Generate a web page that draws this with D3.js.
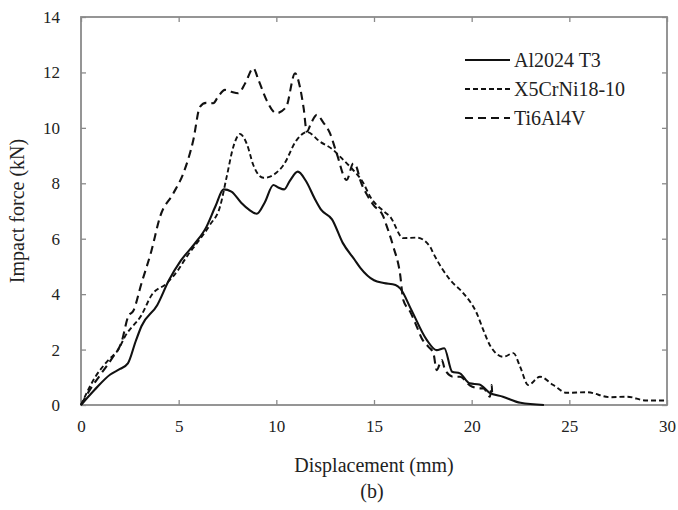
<!DOCTYPE html>
<html><head><meta charset="utf-8">
<script src="https://cdn.jsdelivr.net/npm/d3@7"></script>
<style>body{margin:0;background:#fff}</style>
</head><body><svg id="c" width="678" height="510"></svg>
<script>
const xTicks = [0,5,10,15,20,25,30];
const yTicks = [0,2,4,6,8,10,12,14];
const seriesNames = ["Al2024 T3","X5CrNi18-10","Ti6Al4V"];
const al2024 = [[0,0],[0.7,0.55],[1.5,1.1],[2.0,1.3],[2.4,1.5],[2.8,2.3],[3.1,2.85],[3.9,3.6],[4.5,4.5],[5.1,5.2],[5.8,5.8],[6.4,6.4],[6.9,7.2],[7.3,7.78],[7.7,7.7],[8.2,7.3],[8.6,7.05],[9.0,6.9],[9.4,7.3],[9.85,7.94],[10.1,7.85],[10.4,7.78],[10.7,8.1],[11.1,8.42],[11.5,8.1],[12.0,7.4],[12.3,7.04],[12.85,6.7],[13.4,5.85],[14.0,5.25],[14.3,4.95],[15.0,4.5],[15.5,4.4],[16.1,4.33],[16.35,4.2],[16.9,3.45],[17.7,2.35],[18.2,1.98],[18.6,2.05],[19.0,1.2],[19.4,1.14],[19.9,0.78],[20.4,0.74],[20.9,0.45],[21.6,0.3],[22.5,0.08],[23.7,0]];
const x5crni = [[0,0],[0.72,1.0],[1.4,1.62],[1.91,2.0],[2.25,2.47],[3.1,3.25],[3.62,3.97],[4.39,4.39],[5.0,4.9],[5.41,5.35],[6.0,5.9],[6.6,6.5],[7.12,7.16],[7.46,8.24],[7.8,9.32],[8.14,9.78],[8.5,9.4],[8.82,8.66],[9.33,8.2],[9.6,8.22],[10.0,8.38],[10.36,8.65],[11.04,9.56],[11.56,9.85],[12.24,9.5],[12.92,9.2],[13.26,8.96],[13.77,8.6],[14.46,8.0],[14.8,7.52],[15.48,7.0],[15.82,6.8],[16.5,6.02],[17.2,6.04],[17.87,5.71],[18.04,5.47],[18.9,4.51],[19.58,4.03],[20.26,3.31],[20.6,2.7],[20.94,2.15],[21.62,1.74],[22.14,1.87],[22.48,1.38],[22.9,0.72],[23.5,1.02],[24.18,0.72],[24.87,0.44],[25.89,0.46],[27.09,0.28],[27.94,0.3],[28.96,0.16],[30,0.16]];
const ti6al4v = [[0,0],[0.5,0.6],[1.0,1.1],[1.6,1.7],[2.08,2.28],[2.42,3.2],[2.68,3.4],[3.1,4.4],[3.6,5.55],[4.05,6.8],[4.73,7.64],[5.24,8.36],[5.75,9.56],[6.09,10.76],[6.4,10.9],[6.77,10.89],[7.0,11.1],[7.37,11.37],[7.7,11.3],[8.05,11.25],[8.4,11.6],[8.82,12.15],[9.1,11.7],[9.5,11.0],[10.0,10.53],[10.5,10.75],[10.96,11.97],[11.2,11.5],[11.4,10.7],[11.56,9.86],[11.8,10.2],[12.07,10.47],[12.4,10.2],[12.75,9.8],[13.09,9.08],[13.6,8.12],[13.94,8.72],[14.1,8.6],[14.3,8.1],[14.63,7.6],[14.97,7.22],[15.48,6.8],[15.57,6.62],[15.99,5.71],[16.33,4.75],[16.5,3.79],[16.85,3.37],[17.19,2.83],[17.44,2.41],[17.79,2.1],[18.04,1.87],[18.21,1.26],[18.47,1.62],[18.64,1.26],[19.06,1.02],[19.41,1.02],[19.92,0.7],[20.43,0.6],[20.6,0.6],[20.94,0.3],[21.03,0.72],[21.05,0.35]];

const FONT = "'Liberation Serif'";
const svg = d3.select("#c");
const L=81,R=667,T=17,B=405;
const x = d3.scaleLinear().domain([0,30]).range([L,R]);
const y = d3.scaleLinear().domain([0,14]).range([B,T]);
const axisCol="#8a8a8a";

svg.append("rect").attr("x",L).attr("y",T).attr("width",R-L).attr("height",B-T)
  .attr("fill","none").attr("stroke",axisCol).attr("stroke-width",1.8);

svg.append("g").attr("transform",`translate(0,${B})`)
  .call(d3.axisBottom(x).tickValues(xTicks).tickSize(-5).tickPadding(15).tickFormat(d3.format("d")));
svg.append("g").attr("transform",`translate(0,${T})`)
  .call(d3.axisTop(x).tickValues(xTicks).tickSize(-5).tickFormat(""));
svg.append("g").attr("transform",`translate(${L},0)`)
  .call(d3.axisLeft(y).tickValues(yTicks).tickSize(-5).tickPadding(21).tickFormat(d3.format("d")));
svg.append("g").attr("transform",`translate(${R},0)`)
  .call(d3.axisRight(y).tickValues(yTicks).tickSize(-5).tickFormat(""));
svg.selectAll(".domain").remove();
svg.selectAll("g").attr("font-family",null).attr("font-size",null);
svg.selectAll(".tick line").attr("stroke",axisCol).attr("stroke-width",1.3);
svg.selectAll(".tick text").style("font-size","17px").style("font-family",FONT).style("fill","#222");

const line = d3.line().x(d=>x(d[0])).y(d=>y(d[1])).curve(d3.curveMonotoneX);
const styles = [
  {data:al2024, dash:null, w:2.1},
  {data:x5crni, dash:"5,3", w:1.9},
  {data:ti6al4v, dash:"8,5", w:2.1}
];
styles.forEach(s=>{
  svg.append("path").attr("d",line(s.data)).attr("fill","none").attr("stroke","#111")
    .attr("stroke-width",s.w).attr("stroke-dasharray",s.dash);
});

const legY=[60,89,118];
seriesNames.forEach((n,i)=>{
  svg.append("line").attr("x1",465).attr("x2",510).attr("y1",legY[i]).attr("y2",legY[i])
    .attr("stroke","#111").attr("stroke-width",styles[i].w).attr("stroke-dasharray",styles[i].dash);
  svg.append("text").attr("x",514).attr("y",legY[i]+6.5).style("font-size","20px").style("font-family",FONT).style("fill","#222").text(n);
});

svg.append("text").attr("x",374).attr("y",472).attr("text-anchor","middle").style("font-size","20px").style("font-family",FONT).style("fill","#222").text("Displacement (mm)");
svg.append("text").attr("x",372).attr("y",498).attr("text-anchor","middle").style("font-size","20px").style("font-family",FONT).style("fill","#222").text("(b)");
svg.append("text").attr("transform","translate(24,211) rotate(-90)").attr("text-anchor","middle").style("font-size","20px").style("font-family",FONT).style("fill","#222").text("Impact force (kN)");
</script></body></html>
